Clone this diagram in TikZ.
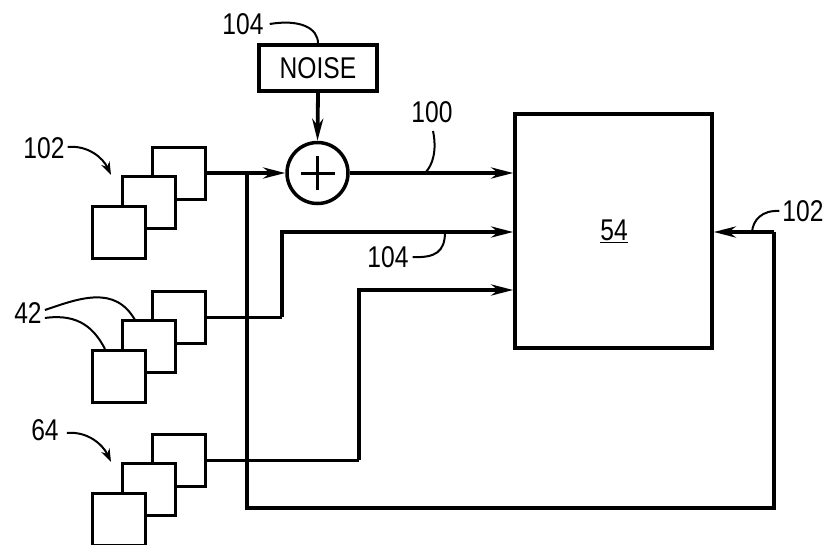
\documentclass[tikz,border=0pt]{standalone}
\usepackage{fontspec}
\newfontfamily\labfont[FakeStretch=0.82]{Liberation Sans}
\usetikzlibrary{arrows.meta,positioning,calc}
\begin{document}
\begin{tikzpicture}[x=1pt,y=-1pt,
  font=\labfont\fontsize{30}{34}\selectfont,
  blk/.style={draw,line width=3.5pt,rectangle,inner sep=0pt,fill=white},
  sq/.style={draw,line width=3pt,rectangle,minimum width=53pt,minimum height=52pt,inner sep=0pt,fill=white},
  wire/.style={line width=3.8pt},
  thinwire/.style={line width=3pt},
  arr/.style={-{Stealth[length=22pt,width=11pt,inset=7pt]}},
  lead/.style={line width=2pt},
  leadarr/.style={line width=2pt,-{Stealth[length=13pt,width=9pt,inset=4pt]}},
  lbl/.style={inner sep=0pt}
]
\useasboundingbox (0,0) rectangle (825,544);
\clip (0,0) rectangle (825,544);
% blocks
\node[blk,minimum width=118pt,minimum height=46pt] (noise) at (318,68) {NOISE};
\node[draw,line width=3.5pt,circle,minimum size=61pt,inner sep=0pt] (sum) at (317.5,173) {};
\draw[line width=3pt] ($(sum.center)+(-17,0)$) -- ($(sum.center)+(17,0)$)
  ($(sum.center)+(0,-17)$) -- ($(sum.center)+(0,17)$);
\node[blk,minimum width=197pt,minimum height=234pt] (b54) at (613.5,231) {};
\node[lbl] (t54) at (614,231) {\underline{54}};
% stack 102
\node[sq] (a3) at (178.5,173) {};
\node[sq] (a2) at (148.5,202.5) {};
\node[sq] (a1) at (119,232) {};
% stack 42
\node[sq] (c3) at (178.5,317) {};
\node[sq] (c2) at (148.5,346.5) {};
\node[sq] (c1) at (119,376) {};
% stack 64
\node[sq] (d3) at (178.5,460) {};
\node[sq] (d2) at (148.5,489.5) {};
\node[sq] (d1) at (119,519) {};
% connectors
\coordinate (j1) at (247,173);
\draw[wire,arr] (a3.east) -- (sum.west);
\draw[wire,arr] (noise.south) -- (sum.north);
\draw[wire,arr] (sum.east) -- (sum.east -| b54.west);
\coordinate (fb1) at (247,508);
\coordinate (fb2) at (774,508);
\coordinate (fb3) at (774,232);
\draw[wire] (j1) -- (fb1) -- (fb2) -- (fb3);
\draw[wire,arr] (fb3) -- (fb3 -| b54.east);
\coordinate (m1) at (282,317);
\coordinate (m2) at (282,232);
\draw[thinwire] (c3.east) -- (m1);
\draw[wire,arr] (m1) -- (m2) -- (m2 -| b54.west);
\coordinate (n1) at (359,460);
\coordinate (n2) at (359,290);
\draw[thinwire] (d3.east) -- (n1);
\draw[wire,arr] (n1) -- (n2) -- (n2 -| b54.west);
% labels
\node[lbl] (l104a) at (243,24) {104};
\draw[lead] (l104a.east) ++(6,0) .. controls (300,19) and (318,28) .. (noise.north);
\node[lbl] (l100) at (432,112) {100};
\coordinate (p100) at (425,173);
\draw[lead] (433,131) .. controls (437,150) and (433,165) .. (p100);
\node[lbl] (l104b) at (388,257) {104};
\coordinate (p104b) at (445,232);
\draw[lead] (l104b.east) ++(4,0) .. controls (435,258) and (445,252) .. (p104b);
\node[lbl] (l102r) at (803,211) {102};
\coordinate (p102r) at (752,232);
\draw[lead] (l102r.west) ++(-3,0) .. controls (762,210) and (753,220) .. (p102r);
\node[lbl] (l102) at (44,148) {102};
\coordinate (q102) at (111,175);
\draw[leadarr] (l102.east) ++(3,-1) .. controls (88,145) and (103,158) .. (q102);
\node[lbl] (l42) at (28,313) {42};
\draw[lead] (l42.east) ++(3,-3) .. controls (80,298) and (115,285) .. (135,320);
\draw[lead] (l42.east) ++(3,5) .. controls (80,313) and (95,330) .. (105,349);
\node[lbl] (l64) at (45,430) {64};
\coordinate (q64) at (111,462);
\draw[leadarr] (l64.east) ++(8,3) .. controls (88,431) and (103,445) .. (q64);
\end{tikzpicture}
\end{document}
